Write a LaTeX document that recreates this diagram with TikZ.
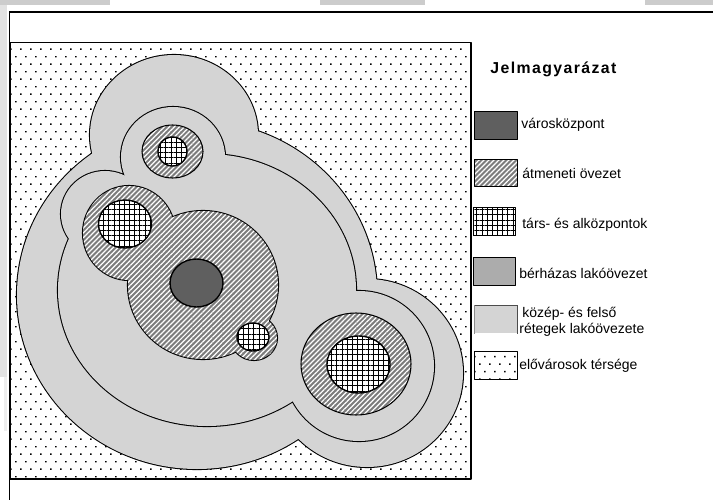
\documentclass[tikz,border=0pt]{standalone}
\usepackage{xcolor}
\usepackage{fontspec}
\setmainfont{Liberation Sans}
\newfontfamily\titlefont[LetterSpace=9]{Liberation Sans}
\usepackage{tikz}
\usetikzlibrary{patterns, patterns.meta, positioning}
\definecolor{citycore}{HTML}{5F5F5F}
\definecolor{hatchgrey}{HTML}{7C7C7C}
\definecolor{blockzone}{HTML}{ACACAC}
\definecolor{middlezone}{HTML}{D4D4D4}
\definecolor{tabgrey}{HTML}{CCCCCC}
\definecolor{sidegrey}{HTML}{E2E2E2}
\pgfdeclarepatternformonly{suburbdots}{\pgfpointorigin}{\pgfqpoint{5.67pt}{8.5pt}}{\pgfqpoint{5.67pt}{8.5pt}}{
    \pgfpathrectangle{\pgfqpoint{0.6pt}{0.6pt}}{\pgfqpoint{0.85pt}{0.85pt}}
    \pgfpathrectangle{\pgfqpoint{3.43pt}{4.85pt}}{\pgfqpoint{0.85pt}{0.85pt}}
    \pgfusepath{fill}}
\tikzset{
    linezone/.style={draw=black, line width=0.6pt, line join=round},
    unionzone/.style={preaction={draw=black, line width=1.2pt}},
    centrezone/.style={linezone, fill=citycore},
    hatchfill/.style={preaction={fill=hatchgrey}, pattern={Lines[angle=45, distance=2pt, line width=0.7pt]}, pattern color=white},
    hatchzone/.style={linezone, hatchfill},
    gridzone/.style={linezone, preaction={fill=white}, pattern={Hatch[angle=0, distance=2.95pt, line width=0.55pt]}, pattern color=black},
    dotzone/.style={linezone, preaction={fill=white}, pattern=suburbdots, pattern color=black},
    legendbox/.style={inner sep=0pt, minimum width=24pt, minimum height=15.5pt, line width=0.8pt},
    legendtext/.style={anchor=base west, inner sep=0pt, font=\fontsize{7.95pt}{8.5pt}\selectfont},
}
\begin{document}
\begin{tikzpicture}[x=0.02cm, y=-0.02cm]
    \useasboundingbox (0,0) rectangle (713,500);
    \fill[tabgrey] (0,0) rectangle (110,5);
    \fill[tabgrey] (320,0) rectangle (425,5);
    \fill[tabgrey] (645,0) rectangle (713,5);
    \fill[sidegrey] (0,5) rectangle (7,377);
    \fill[sidegrey!60] (4,377) rectangle (7,431);
    \draw[line width=1.1pt] (9.5,500) -- (9.5,12) -- (713,12);

    \path[dotzone] (10,42.5) rectangle (471,479);

    % outer and inner line of the middle zone
    \path[unionzone, fill=middlezone] (197,295) ellipse (180 and 174) (174,135) ellipse (84 and 80) (367,373) ellipse (96 and 94);
    \path[unionzone, fill=middlezone] (207,290) ellipse (149 and 136) (173,157) ellipse (52 and 50) (359,366) ellipse (75 and 75) (105,214) ellipse (44 and 43);

    % transition zone round the centre
    \path[unionzone, hatchfill] (203,285) ellipse (75 and 74) (129,233) ellipse (46 and 47) (254,338) ellipse (23 and 22);
    \path[hatchzone] (172.5,151.5) ellipse (30.5 and 26.5);
    \path[hatchzone] (356,364) ellipse (55 and 51);

    \path[gridzone, line width=0.8pt] (172.5,151.5) ellipse (14.5 and 14.5);
    \path[gridzone, line width=0.8pt] (125,224) ellipse (26.5 and 24);
    \path[gridzone, line width=0.8pt] (253,337) ellipse (16 and 14);
    \path[gridzone, line width=0.8pt] (358.5,364.5) ellipse (31.5 and 28.5);
    \path[centrezone, line width=0.8pt] (196.5,283) ellipse (26.5 and 24);

    \node[anchor=base west, inner sep=0pt, font=\titlefont\bfseries\fontsize{9pt}{10pt}\selectfont] (legendtitle) at (490,74) {Jelmagyarázat};

    \node[legendbox, centrezone] (boxcentre) at (496,125.5) {};
    \node[legendbox, hatchzone] (boxhatch) at (496,173) {};
    \node[legendbox, gridzone] (boxgrid) at (494.5,221.5) {};
    \node[legendbox, linezone, fill=blockzone] (boxblock) at (494.5,271.5) {};
    \node[legendbox, fill=middlezone] (boxmiddle) at (496,319.5) {};
    \draw[line width=0.7pt, black!70] (boxmiddle.south east) -- (boxmiddle.north east) -- (boxmiddle.north west);
    \draw[line width=0.7pt, black!45] (boxmiddle.north west) -- (boxmiddle.south west);
    \node[legendbox, dotzone] (boxsuburb) at (496,365.5) {};

    \node[legendtext] (labelcentre) at (521,129) {városközpont};
    \node[legendtext] (labelhatch) at (522,178) {átmeneti övezet};
    \node[legendtext] (labelgrid) at (522,228) {társ- és alközpontok};
    \node[legendtext] (labelblock) at (519,278) {bérházas lakóövezet};
    \node[legendtext] (labelmiddle) at (522,317) {közép- és felső};
    \node[legendtext] (labelmiddletwo) at (519,333) {rétegek lakóövezete};
    \node[legendtext] (labelsuburb) at (519,369) {elővárosok térsége};
\end{tikzpicture}
\end{document}
